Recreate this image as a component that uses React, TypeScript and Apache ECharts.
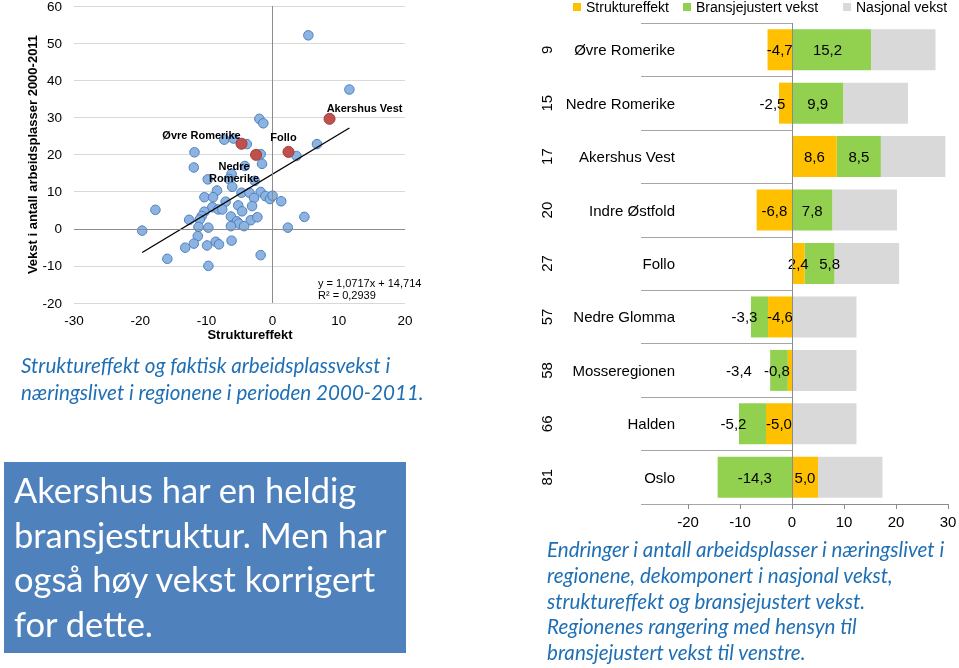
import React, { useEffect, useRef } from 'react';
import * as echarts from 'echarts';

// ---- Bar chart data ----
const regions = ['Øvre Romerike', 'Nedre Romerike', 'Akershus Vest', 'Indre Østfold', 'Follo', 'Nedre Glomma', 'Mosseregionen', 'Halden', 'Oslo'];
const ranks = ['9', '15', '17', '20', '27', '57', '58', '66', '81'];
const strukturEffekt = [-4.7, -2.5, 8.6, -6.8, 2.4, -4.6, -0.8, -5.0, 5.0];
const bransjeVekst = [15.2, 9.9, 8.5, 7.8, 5.8, -3.3, -3.4, -5.2, -14.3];
const nasjonalVekst = [12.4, 12.4, 12.4, 12.4, 12.4, 12.4, 12.4, 12.4, 12.4];
const barTicks = { min: -20, max: 30, step: 10 };

// ---- Scatter data ----
const scatterX = [5.4, 11.6, -2.0, -1.4, -7.3, -5.9, -3.9, 6.7, -11.8, -1.8, 3.6, -11.9, -1.6, -4.2, -9.8, -6.2, -6.6, -6.1, -2.7, -8.4, -10.3, -9.0, -7.1, -4.7, -3.5, -1.8, -1.1, -0.4, 0.0, 1.3, -2.8, -3.1, -5.2, -4.6, -9.1, -8.2, -7.6, -10.3, -10.7, -11.0, -12.6, -6.3, -5.4, -5.1, -3.3, -2.3, -6.3, -4.3, -11.2, -9.7, 2.3, 4.8, -17.7, -19.7, -11.3, -11.9, -13.2, -9.9, -8.6, -8.1, -6.2, -15.9, -9.7, -1.8];
const scatterY = [52.1, 37.5, 29.6, 28.4, 24.0, 24.3, 22.8, 22.8, 20.6, 20.1, 19.6, 16.5, 17.5, 16.9, 13.3, 14.8, 13.4, 11.3, 12.9, 10.3, 8.5, 8.5, 7.3, 9.7, 9.7, 9.9, 8.8, 8.0, 8.9, 7.4, 8.3, 6.1, 6.3, 4.7, 5.8, 5.2, 5.2, 4.6, 3.4, 2.5, 2.4, 3.3, 2.0, 1.4, 2.3, 3.1, 0.7, 0.7, 0.5, 0.3, 0.3, 3.2, 5.1, -0.5, -2.0, -4.0, -5.1, -4.5, -3.5, -4.2, -3.2, -8.1, -10.0, -7.1];
const highlightNames = ['Øvre Romerike', 'Nedre Romerike', 'Follo', 'Akershus Vest'];
const highlightX = [-4.7, -2.5, 2.4, 8.6];
const highlightY = [22.9, 19.9, 20.7, 29.6];
const trendSlope = 1.0717;
const trendIntercept = 14.714;
const rSquared = 0.2939;

// ---- text ----
const leftCaption = ['Struktureffekt og faktisk arbeidsplassvekst i', 'næringslivet i regionene i perioden 2000-2011.'];
const rightCaption = ['Endringer i antall arbeidsplasser i næringslivet i', 'regionene, dekomponert i nasjonal vekst,', 'struktureffekt og bransjejustert vekst.', 'Regionenes rangering med hensyn til', 'bransjejustert vekst til venstre.'];
const boxText = ['Akershus har en heldig', 'bransjestruktur. Men har', 'også høy vekst korrigert', 'for dette.'];

// style-only tweaks (label nudges in px)
const barLabelNudge: Record<string, number> = {
  's1': -13, 'b4': 10, 'b5': -15, 'b6': -40, 's6': -13, 'b7': -19, 'b0': -4,
};
const pointLabelOffset: Record<string, [number, number]> = {
  'Øvre Romerike': [-40, -9],
  'Nedre Romerike': [-22, 17],
  'Follo': [-5, -15],
  'Akershus Vest': [35, -11],
};
const pointLabelText: Record<string, string> = {
  'Nedre Romerike': 'Nedre\nRomerike',
};

const FONT = 'Liberation Sans';
const fmt = (v: number) => v.toFixed(1).replace('.', ',');
const fmt4 = (v: number) => String(v).replace('.', ',');

export default function App() {
  const ref = useRef<HTMLDivElement>(null);
  useEffect(() => {
    const chart = echarts.init(ref.current!, null, { renderer: 'svg' });
    const allX = scatterX.concat(highlightX);
    const xMin = Math.min(...allX);
    const xMax = Math.max(...allX);
    const barItems = (arr: number[], key: string) =>
      arr.map((v, i) => {
        const n = barLabelNudge[key + i];
        return n ? { value: v, label: { offset: [n, 0] } } : v;
      });
    const option: any = {
      animation: false,
      textStyle: { fontFamily: FONT },
      legend: [
        { data: ['Struktureffekt'], left: 568, top: -5 },
        { data: ['Bransjejustert vekst'], left: 678, top: -5 },
        { data: ['Nasjonal vekst'], left: 838, top: -5 },
      ].map((l) => ({ ...l, icon: 'rect', itemWidth: 8, itemHeight: 8, textStyle: { fontSize: 14, color: '#000', fontFamily: FONT } })),
      grid: [
        { left: 74, top: 6, width: 331, height: 297, outerBoundsMode: 'none', containLabel: false },
        { left: 688, top: 23, width: 260, height: 481, outerBoundsMode: 'none', containLabel: false },
      ],
      xAxis: [
        {
          gridIndex: 0, type: 'value', min: -30, max: 20, interval: 10,
          axisLine: { show: false }, axisTick: { show: false }, splitLine: { show: false },
          axisLabel: { fontSize: 13.5, color: '#000', margin: 10 },
          name: 'Struktureffekt', nameLocation: 'middle', nameGap: 21,
          nameTextStyle: { fontWeight: 'bold', fontSize: 13, color: '#000', padding: [0, 0, 0, 21] },
        },
        {
          gridIndex: 1, type: 'value', min: barTicks.min, max: barTicks.max, interval: barTicks.step,
          axisLine: { show: true, lineStyle: { color: '#8c8c8c' } },
          axisTick: { show: true, length: 5, lineStyle: { color: '#8c8c8c' } },
          splitLine: { show: false },
          axisLabel: { fontSize: 15, color: '#000', margin: 10 },
        },
      ],
      yAxis: [
        {
          gridIndex: 0, type: 'value', min: -20, max: 60, interval: 10,
          axisLine: { show: false }, axisTick: { show: false },
          splitLine: { lineStyle: { color: '#d9d9d9' } },
          axisLabel: { fontSize: 13.5, color: '#000', margin: 12 },
          name: 'Vekst i antall arbeidsplasser 2000-2011', nameLocation: 'middle', nameGap: 35,
          nameTextStyle: { fontWeight: 'bold', fontSize: 13, color: '#000' },
        },
        {
          gridIndex: 1, type: 'category', data: regions, inverse: true, position: 'left',
          axisLine: { show: false },
          axisTick: { show: true, length: 151, lineStyle: { color: '#a6a6a6' } },
          axisLabel: { fontSize: 15, color: '#000', margin: 13 },
          splitLine: { show: false },
        },
        {
          gridIndex: 1, type: 'category', data: ranks, inverse: true, position: 'left',
          axisLine: { show: false }, axisTick: { show: false },
          axisLabel: { fontSize: 15, color: '#000', margin: 134, rotate: 90 },
          splitLine: { show: false },
        },
      ],
      series: [
        {
          type: 'scatter', name: 'regioner', xAxisIndex: 0, yAxisIndex: 0,
          data: scatterX.map((x, i) => [x, scatterY[i]]),
          symbolSize: 9.5,
          itemStyle: { color: '#8db3e2', borderColor: '#4a7ebb', borderWidth: 1, opacity: 1 },
          markLine: {
            silent: true, symbol: ['none', 'none'], label: { show: false },
            lineStyle: { color: '#8c8c8c', width: 1, type: 'solid' },
            data: [{ xAxis: 0 }, { yAxis: 0 }],
          },
          z: 3,
        },
        {
          type: 'line', name: 'trend', xAxisIndex: 0, yAxisIndex: 0,
          data: [[xMin, trendSlope * xMin + trendIntercept], [xMax, trendSlope * xMax + trendIntercept]],
          symbol: 'none', lineStyle: { color: '#000', width: 1.3 }, z: 4,
        },
        {
          type: 'scatter', name: 'utvalgte', xAxisIndex: 0, yAxisIndex: 0,
          data: highlightNames.map((n, i) => ({
            name: n, value: [highlightX[i], highlightY[i]],
            label: { offset: pointLabelOffset[n] },
          })),
          symbolSize: 11,
          itemStyle: { color: '#c0504d', borderColor: '#a03c39', borderWidth: 1, opacity: 1 },
          label: {
            show: true, position: 'inside', fontSize: 11, fontWeight: 'bold', color: '#000',
            align: 'center', lineHeight: 12,
            formatter: (p: any) => pointLabelText[p.name] || p.name,
          },
          z: 5,
        },
        {
          type: 'bar', name: 'Struktureffekt', xAxisIndex: 1, yAxisIndex: 1, stack: 'tot',
          data: barItems(strukturEffekt, 's'), barWidth: 41,
          itemStyle: { color: '#ffc000' },
          label: { show: true, position: 'inside', fontSize: 15, color: '#000', formatter: (p: any) => fmt(p.value) },
          markLine: {
            silent: true, symbol: ['none', 'none'], label: { show: false },
            lineStyle: { color: '#8c8c8c', width: 1, type: 'solid' },
            data: [{ xAxis: 0 }],
          },
          z: 3,
        },
        {
          type: 'bar', name: 'Bransjejustert vekst', xAxisIndex: 1, yAxisIndex: 1, stack: 'tot',
          data: barItems(bransjeVekst, 'b'), barWidth: 41,
          itemStyle: { color: '#92d050' },
          label: { show: true, position: 'inside', fontSize: 15, color: '#000', formatter: (p: any) => fmt(p.value) },
          z: 2,
        },
        {
          type: 'bar', name: 'Nasjonal vekst', xAxisIndex: 1, yAxisIndex: 1, stack: 'tot',
          data: nasjonalVekst, barWidth: 41,
          itemStyle: { color: '#d9d9d9' },
          z: 2,
        },
      ],
      graphic: [
        {
          type: 'text', left: 318, top: 277, z: 10,
          style: {
            text: `y = ${fmt4(trendSlope)}x + ${fmt4(trendIntercept)}\nR² = ${fmt4(rSquared)}`,
            fontSize: 11, fontFamily: FONT, fill: '#000', align: 'center', lineHeight: 12,
          },
        },
        {
          type: 'text', left: 21, top: 351,
          style: {
            text: leftCaption.join('\n'), fontSize: 20.6, fontStyle: 'italic', fontFamily: 'Lato',
            fill: '#1f6fb5', lineHeight: 27,
          },
        },
        {
          type: 'text', left: 547, top: 536,
          style: {
            text: rightCaption.join('\n'), fontSize: 20.6, fontStyle: 'italic', fontFamily: 'Lato',
            fill: '#1f6fb5', lineHeight: 25.8,
          },
        },
        {
          type: 'rect', shape: { x: 4, y: 462, width: 402, height: 191 },
          style: { fill: '#4f81bd' },
        },
        {
          type: 'text', left: 14, top: 467,
          style: {
            text: boxText.join('\n'), fontSize: 34.5, fontFamily: 'Lato',
            fill: '#fff', lineHeight: 44.7,
          },
        },
      ],
    };
    chart.setOption(option);
    return () => chart.dispose();
  }, []);
  return <div ref={ref} style={{ position: 'fixed', left: 0, top: 0, width: 959, height: 668 }} />;
}
